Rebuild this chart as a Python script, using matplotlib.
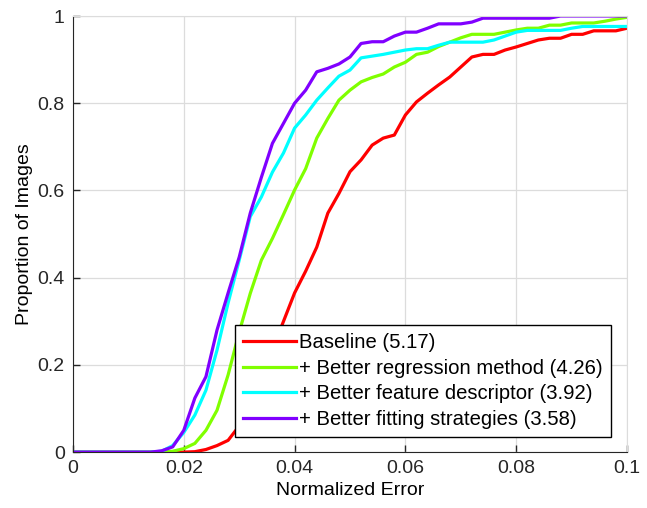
import numpy as np
import matplotlib
matplotlib.use("Agg")
from matplotlib import pyplot as plt

plt.rcParams["font.family"] = ["Liberation Sans", "DejaVu Sans"]
plt.rcParams["font.size"] = 14

# normalized error thresholds (0 .. 0.1, step 0.002)
errors = np.linspace(0, 0.1, 51)

baseline = [0, 0, 0, 0, 0, 0, 0, 0, 0, 0,
            0, 0.001, 0.006, 0.015, 0.027, 0.06, 0.11, 0.17, 0.235, 0.30,
            0.365, 0.415, 0.47, 0.548, 0.593, 0.643, 0.67, 0.704, 0.72, 0.727,
            0.773, 0.803, 0.823, 0.842, 0.86, 0.883, 0.906, 0.912, 0.912, 0.922,
            0.929, 0.937, 0.945, 0.949, 0.949, 0.958, 0.958, 0.966, 0.966, 0.966,
            0.972]
regression = [0, 0, 0, 0, 0, 0, 0, 0, 0, 0.002,
              0.008, 0.02, 0.05, 0.096, 0.177, 0.275, 0.364, 0.44, 0.49, 0.545,
              0.601, 0.65, 0.72, 0.765, 0.807, 0.83, 0.849, 0.859, 0.867, 0.883,
              0.894, 0.912, 0.917, 0.93, 0.94, 0.95, 0.958, 0.958, 0.958, 0.963,
              0.968, 0.972, 0.972, 0.979, 0.979, 0.984, 0.984, 0.984, 0.988, 0.993,
              0.997]
descriptor = [0, 0, 0, 0, 0, 0, 0, 0, 0.002, 0.015,
              0.045, 0.085, 0.142, 0.234, 0.342, 0.44, 0.54, 0.585, 0.642, 0.686,
              0.743, 0.773, 0.807, 0.835, 0.862, 0.876, 0.904, 0.908, 0.912, 0.917,
              0.922, 0.925, 0.925, 0.933, 0.94, 0.94, 0.94, 0.94, 0.945, 0.954,
              0.963, 0.967, 0.967, 0.967, 0.967, 0.972, 0.976, 0.976, 0.976, 0.976,
              0.976]
fitting = [0, 0, 0, 0, 0, 0, 0, 0, 0.003, 0.012,
           0.05, 0.124, 0.173, 0.28, 0.365, 0.447, 0.548, 0.63, 0.708, 0.754,
           0.80, 0.83, 0.872, 0.88, 0.89, 0.906, 0.937, 0.941, 0.941, 0.954,
           0.963, 0.963, 0.972, 0.982, 0.982, 0.982, 0.986, 0.995, 0.995, 0.995,
           0.995, 0.995, 0.995, 0.995, 1.0, 1.0, 1.0, 1.0, 1.0, 1.0,
           1.0]

labels = ["Baseline (5.17)",
          "+ Better regression method (4.26)",
          "+ Better feature descriptor (3.92)",
          "+ Better fitting strategies (3.58)"]
colors = ["#ff0000", "#80ff00", "#00ffff", "#8000ff"]

fig = plt.figure(figsize=(6.47, 5.08), dpi=100)
ax = fig.add_axes([0.1128, 0.110, 0.8563, 0.8585])

for ys, lab, c in zip([baseline, regression, descriptor, fitting], labels, colors):
    ax.plot(errors, ys, color=c, lw=2.3, label=lab)

ax.set_xlim(0, 0.1)
ax.set_ylim(0, 1)
ax.set_xticks([0, 0.02, 0.04, 0.06, 0.08, 0.1])
ax.set_xticklabels(["0", "0.02", "0.04", "0.06", "0.08", "0.1"])
ax.set_yticks([0, 0.2, 0.4, 0.6, 0.8, 1])
ax.set_yticklabels(["0", "0.2", "0.4", "0.6", "0.8", "1"])
ax.grid(True, color="#dcdcdc", lw=0.9)
ax.set_axisbelow(True)
ax.tick_params(direction="in", length=5, width=1, colors="#262626", labelsize=14, pad=6)
for side in ["top", "right"]:
    ax.spines[side].set_color("#dcdcdc")
for side in ["left", "bottom"]:
    ax.spines[side].set_color("#262626")

ax.set_xlabel("Normalized Error", fontsize=14, labelpad=3)
ax.set_ylabel("Proportion of Images", fontsize=14, labelpad=3)

leg = ax.legend(loc="lower right", bbox_to_anchor=(0.971, 0.0344), borderaxespad=0,
                fancybox=False, framealpha=1, edgecolor="black", fontsize=14.6,
                handlelength=2.6, handletextpad=0.15, labelspacing=0.32,
                borderpad=0.42)
leg.get_frame().set_linewidth(1.0)

fig.savefig("out.png", dpi=100)
